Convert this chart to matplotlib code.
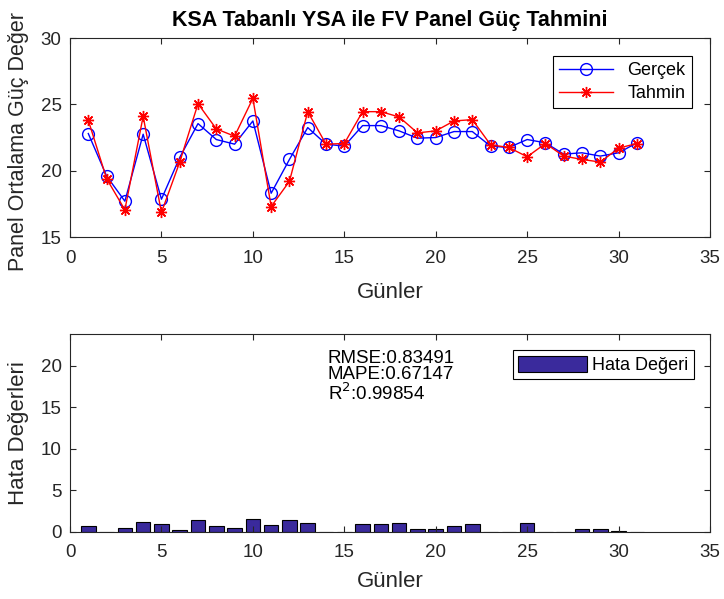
import matplotlib
matplotlib.use("Agg")
import matplotlib.pyplot as plt
import numpy as np

plt.rcParams['font.family'] = ['Liberation Sans', 'DejaVu Sans']

# Günlük değerler
gunler = list(range(1, 32))
gercek = [22.8, 19.6, 17.7, 22.75, 17.85, 21.0, 23.55, 22.35, 22.0, 23.75,
          18.3, 20.85, 23.25, 22.0, 21.85, 23.4, 23.4, 23.0, 22.45, 22.5,
          22.95, 22.95, 21.85, 21.75, 22.35, 22.1, 21.25, 21.35, 21.1, 21.35, 22.1]
tahmin = [23.8, 19.4, 17.05, 24.1, 16.85, 20.65, 25.05, 23.15, 22.6, 25.45,
          17.3, 19.2, 24.45, 22.0, 22.05, 24.45, 24.45, 24.05, 22.85, 23.0,
          23.75, 23.85, 21.95, 21.75, 21.05, 22.05, 21.1, 20.85, 20.65, 21.7, 22.05]
hata = [0.68, 0.0, 0.48, 1.2, 0.92, 0.2, 1.4, 0.72, 0.48, 1.56,
        0.88, 1.4, 1.12, 0.0, 0.0, 0.92, 0.92, 1.08, 0.32, 0.36,
        0.72, 0.92, 0.0, 0.0, 1.08, 0.0, 0.0, 0.36, 0.36, 0.16, 0.0]

metin = ["RMSE:0.83491", "MAPE:0.67147", "R$^2$:0.99854"]

gri = '#262626'
fig = plt.figure(figsize=(7.24, 5.99), dpi=100)
ax1 = fig.add_axes([0.0967, 0.6043, 0.884, 0.3322])
ax2 = fig.add_axes([0.0967, 0.1119, 0.884, 0.3306])

ax1.plot(gunler, gercek, color='b', marker='o', markersize=8.5,
         markerfacecolor='none', linewidth=1, label='Gerçek')
ax1.plot(gunler, tahmin, color='r', marker=(8, 2, 0), markersize=8,
         linewidth=1, label='Tahmin')
ax1.set_xlim(0, 35)
ax1.set_ylim(15, 30)
ax1.set_yticks([15, 20, 25, 30])
ax1.set_title('KSA Tabanlı YSA ile FV Panel Güç Tahmini', fontsize=15.5,
              fontweight='bold', color='black', pad=9)
ax1.set_xlabel('Günler', fontsize=16, color=gri, labelpad=11)
ax1.set_ylabel('Panel Ortalama Güç Değer', fontsize=15.5, color=gri)
ax1.yaxis.set_label_coords(-0.064, 0.48)
leg1 = ax1.legend(loc='upper right', fontsize=13, fancybox=False,
                  edgecolor='black', framealpha=1, borderaxespad=1.0,
                  handlelength=3.0, borderpad=0.35, labelspacing=0.3)
leg1.get_frame().set_linewidth(0.8)

ax2.bar(gunler, hata, width=0.8, color='#3A2A9C', edgecolor='black',
        linewidth=0.8, label='Hata Değeri')
ax2.set_xlim(0, 35)
ax2.set_ylim(0, 23.8)
ax2.set_yticks([0, 5, 10, 15, 20])
ax2.set_xlabel('Günler', fontsize=16, color=gri, labelpad=7)
ax2.set_ylabel('Hata Değerleri', fontsize=16, color=gri)
ax2.yaxis.set_label_coords(-0.064, 0.5)
for i, t in enumerate(metin):
    ax2.text(14.1, 21.85 - i * 1.95, t, fontsize=13.5, color='black',
             ha='left', va='top')
leg2 = ax2.legend(loc='upper right', fontsize=13, fancybox=False,
                  edgecolor='black', framealpha=1, borderaxespad=0.9,
                  handlelength=3.8, handleheight=1.0, borderpad=0.3,
                  handletextpad=0.3)
leg2.get_frame().set_linewidth(0.8)

for ax in (ax1, ax2):
    ax.set_xticks([0, 5, 10, 15, 20, 25, 30, 35])
    ax.tick_params(direction='in', top=True, right=True, length=4,
                   labelsize=13.5, colors=gri)
    ax.tick_params(axis='x', pad=9)
    ax.tick_params(axis='y', pad=6)
    for s in ax.spines.values():
        s.set_color(gri)
        s.set_linewidth(0.8)

fig.savefig('out.png', dpi=100)
